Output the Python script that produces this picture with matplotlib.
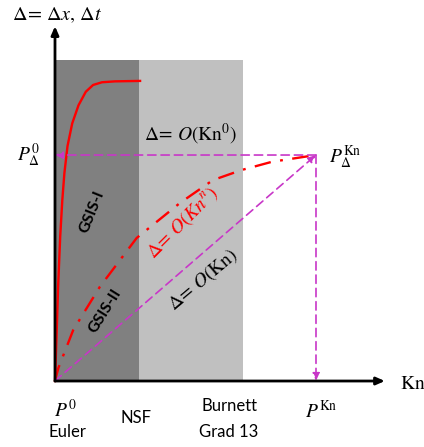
import matplotlib
matplotlib.use("Agg")
import matplotlib.pyplot as plt

plt.rcParams['mathtext.fontset'] = 'stix'

# regions along Kn (fraction of Kn at P^Kn)
dark_region = (0.0, 0.322)
light_region = (0.322, 0.72)
region_top = 1.42

# GSIS-I error curve (solid red)
gsis1_kn = [0.0, 0.006, 0.012, 0.020, 0.028, 0.036, 0.048, 0.066, 0.090, 0.118, 0.146, 0.180, 0.230, 0.326]
gsis1_err = [0.0, 0.200, 0.420, 0.640, 0.800, 0.920, 1.040, 1.140, 1.220, 1.280, 1.310, 1.322, 1.326, 1.328]

# Delta = O(Kn^n) curve (red dash-dot)
knn_kn = [0.0, 0.013, 0.070, 0.172, 0.313, 0.479, 0.605, 0.716, 0.831, 1.0]
knn_err = [0.0, 0.058, 0.226, 0.417, 0.633, 0.788, 0.889, 0.934, 0.970, 1.0]

# P_Delta^Kn point
p_kn = (1.0, 1.0)

mag = '#c837c8'

fig = plt.figure(figsize=(4.24, 4.47), dpi=100)
ax = fig.add_axes([0, 0, 1, 1])
ax.set_xlim(-0.2107, 1.4138)
ax.set_ylim(-0.292, 1.686)
ax.axis('off')

ax.fill_between(dark_region, 0, region_top, color='#808080', lw=0, zorder=0)
ax.fill_between(light_region, 0, region_top, color='#c0c0c0', lw=0, zorder=0)

# axes with arrows
arrow = dict(arrowstyle='-|>,head_length=0.5,head_width=0.22', color='black', lw=2,
             shrinkA=0, shrinkB=0)
ax.annotate('', xy=(1.264, 0), xytext=(0, 0), arrowprops=arrow, zorder=5)
ax.annotate('', xy=(0, 1.57), xytext=(0, 0), arrowprops=arrow, zorder=5)

# curves
ax.plot(gsis1_kn, gsis1_err, color='red', lw=1.7, zorder=3)
ax.plot(knn_kn, knn_err, color='red', lw=1.7, ls=(0, (7, 4, 1.2, 4)), zorder=3)

# magenta dashed guides
marrow = dict(arrowstyle='-|>,head_length=0.45,head_width=0.2', color=mag, lw=1.2,
              ls=(0, (5, 3)), shrinkA=0, shrinkB=0)
ax.annotate('', xy=(0, p_kn[1]), xytext=p_kn, arrowprops=marrow, zorder=4)
ax.annotate('', xy=(p_kn[0], 0), xytext=p_kn, arrowprops=marrow, zorder=4)
ax.annotate('', xy=p_kn, xytext=(0, 0), arrowprops=marrow, zorder=4)

# labels
ax.text(-0.165, 1.62, r'$\Delta\!=\,\Delta x,\,\Delta t$', fontsize=14.5, va='center', ha='left')
ax.text(1.32, -0.01, r'$\mathrm{Kn}$', fontsize=14, va='center', ha='left')
ax.text(-0.145, 1.0, r'$P_\Delta^0$', fontsize=14, va='center', ha='left')
ax.text(0.52, 1.09, r'$\Delta\!=\,O(\mathrm{Kn}^0)$', fontsize=14, va='center', ha='center')
ax.text(1.05, 0.99, r'$P_\Delta^{\mathrm{Kn}}$', fontsize=14, va='center', ha='left')

ax.text(0.142, 0.75, 'GSIS-I', fontsize=11.5, fontweight='bold', family='Lato',
        rotation=68, ha='center', va='center')
ax.text(0.193, 0.31, 'GSIS-II', fontsize=11.5, fontweight='bold', family='Lato',
        rotation=58, ha='center', va='center')
ax.text(0.49, 0.70, r'$\Delta\!=\,O(Kn^n)$', fontsize=14, color='red',
        rotation=45, ha='center', va='center')
ax.text(0.567, 0.45, r'$\Delta\!=\,O(\mathrm{Kn})$', fontsize=14,
        rotation=40, ha='center', va='center')

ax.text(0.04, -0.13, r'$P^0$', fontsize=14, ha='center', va='center')
ax.text(0.046, -0.225, 'Euler', fontsize=12, family='Lato', ha='center', va='center')
ax.text(0.31, -0.165, 'NSF', fontsize=12, family='Lato', ha='center', va='center')
ax.text(0.667, -0.11, 'Burnett', fontsize=12, family='Lato', ha='center', va='center')
ax.text(0.667, -0.225, 'Grad 13', fontsize=12, family='Lato', ha='center', va='center')
ax.text(1.02, -0.135, r'$P^{\mathrm{Kn}}$', fontsize=14, ha='center', va='center')

fig.savefig('out.png', dpi=100)
